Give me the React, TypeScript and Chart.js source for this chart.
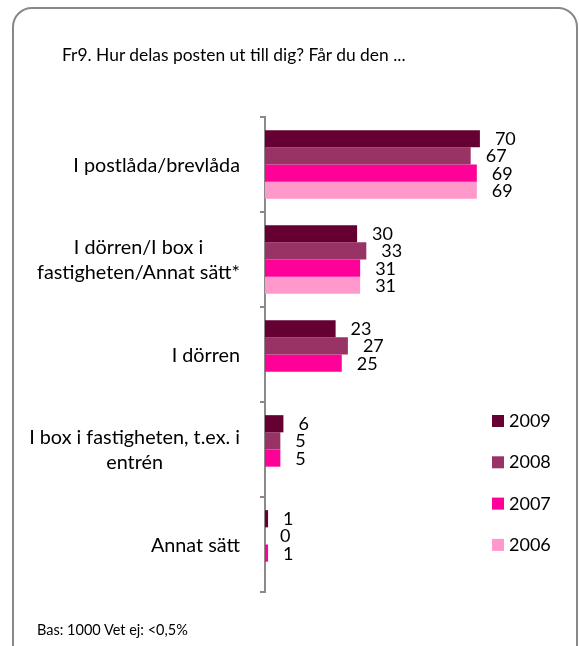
import React, { useEffect, useRef } from "react";
import { Chart, registerables } from "chart.js";

Chart.register(...registerables);

const FONT = "Lato, 'Open Sans', sans-serif";

const titleText = "Fr9. Hur delas posten ut till dig? Får du den ...";
const footnoteText = "Bas: 1000 Vet ej: <0,5%";

const categoryLines: string[][] = [
  ["I postlåda/brevlåda"],
  ["I dörren/I box i", "fastigheten/Annat sätt*"],
  ["I dörren"],
  ["I box i fastigheten, t.ex. i", "entrén"],
  ["Annat sätt"],
];

const seriesLabels = ["2009", "2008", "2007", "2006"];
const seriesColors = ["#660033", "#993366", "#FF0099", "#FF99CC"];

const values2009 = [70, 30, 23, 6, 1];
const values2008 = [67, 33, 27, 5, 0];
const values2007 = [69, 31, 25, 5, 1];
const values2006 = [69, 31, null, null, null];

const seriesValues = [values2009, values2008, values2007, values2006];

const xMin = 0;
const xMax = 100;

const labelPlugin = {
  id: "customLabels",
  afterDatasetsDraw(chart: any) {
    const ctx = chart.ctx as CanvasRenderingContext2D;
    ctx.save();
    ctx.fillStyle = "#000";
    ctx.textBaseline = "alphabetic";

    // value labels
    ctx.font = `18px ${FONT}`;
    ctx.textAlign = "left";
    chart.data.datasets.forEach((ds: any, di: number) => {
      const meta = chart.getDatasetMeta(di);
      meta.data.forEach((el: any, i: number) => {
        const v = ds.data[i];
        if (v === null || v === undefined) return;
        ctx.fillText(String(v), el.x + 15, el.y + 6.5);
      });
    });

    // category labels
    ctx.font = `19.8px ${FONT}`;
    const yScale = chart.scales.y;
    const rightEdge = yScale.right - 25;
    ctx.textAlign = "center";
    categoryLines.forEach((lines, i) => {
      const cy = yScale.getPixelForValue(i);
      const bw = Math.max(...lines.map((l) => ctx.measureText(l).width));
      const cx = rightEdge - bw / 2;
      lines.forEach((l, j) => {
        ctx.fillText(l, cx, cy + 7 + (j - (lines.length - 1) / 2) * 25);
      });
    });

    // legend
    ctx.font = `18px ${FONT}`;
    ctx.textAlign = "left";
    const legendX = 492;
    const legendBase = 427;
    const legendStep = 41.3;
    seriesLabels.forEach((lab, i) => {
      const by = legendBase + i * legendStep;
      ctx.fillStyle = seriesColors[i];
      ctx.fillRect(legendX, by - 12, 12, 12);
      ctx.fillStyle = "#000";
      ctx.fillText(lab, legendX + 17, by);
    });
    ctx.restore();
  },
};

export default function App() {
  const canvasRef = useRef<HTMLCanvasElement | null>(null);

  useEffect(() => {
    if (!canvasRef.current) return;
    const chart = new Chart(canvasRef.current, {
      type: "bar",
      data: {
        labels: categoryLines.map((l) => l.join(" ")),
        datasets: seriesLabels.map((lab, i) => ({
          label: lab,
          data: seriesValues[i],
          backgroundColor: seriesColors[i],
          borderWidth: 0,
          categoryPercentage: 0.723,
          barPercentage: 1,
        })),
      },
      options: {
        indexAxis: "y",
        responsive: false,
        maintainAspectRatio: false,
        animation: false,
        layout: { padding: { top: 117, bottom: 54, left: 0, right: 7 } },
        plugins: {
          legend: { display: false },
          tooltip: { enabled: false },
          title: { display: false },
        },
        scales: {
          x: { display: false, min: xMin, max: xMax },
          y: {
            type: "category",
            offset: true,
            grid: {
              offset: true,
              drawOnChartArea: false,
              drawTicks: true,
              tickLength: 5,
              color: "#8a8a8a",
              lineWidth: 2,
            },
            border: { display: true, color: "#8a8a8a", width: 2 },
            ticks: { display: false },
            afterFit: (scale: any) => {
              scale.width = 265;
            },
          },
        },
      },
      plugins: [labelPlugin],
    } as any);
    return () => chart.destroy();
  }, []);

  return (
    <div
      style={{
        position: "fixed",
        left: 0,
        top: 0,
        width: 579,
        height: 646,
        overflow: "hidden",
        background: "#fff",
      }}
    >
      <div
        style={{
          position: "absolute",
          left: 12,
          top: 7,
          width: 566,
          height: 670,
          boxSizing: "border-box",
          border: "2px solid #888",
          borderRadius: 20,
        }}
      />
      <canvas
        ref={canvasRef}
        width={579}
        height={646}
        style={{ position: "absolute", left: 0, top: 0 }}
      />
      <div
        style={{
          position: "absolute",
          left: 62,
          top: 46,
          fontFamily: FONT,
          fontSize: 17.4,
          lineHeight: "18px",
          color: "#000",
          whiteSpace: "nowrap",
        }}
      >
        {titleText}
      </div>
      <div
        style={{
          position: "absolute",
          left: 37,
          top: 623,
          fontFamily: FONT,
          fontSize: 14.5,
          lineHeight: "14px",
          color: "#000",
          whiteSpace: "nowrap",
        }}
      >
        {footnoteText}
      </div>
    </div>
  );
}
